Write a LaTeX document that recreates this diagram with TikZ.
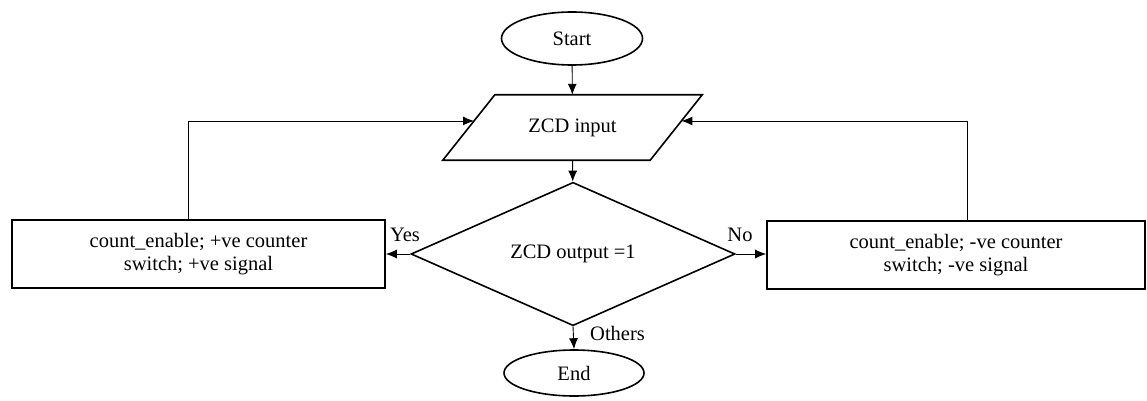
\documentclass[tikz,border=0pt]{standalone}
\usepackage{fontspec}
\setmainfont{Liberation Serif}
\usetikzlibrary{shapes.geometric,arrows.meta,calc}
\begin{document}
\begin{tikzpicture}[x=1pt,y=-1pt,
  every node/.style={font=\fontsize{20.5}{23.5}\selectfont, inner sep=0pt},
  shapeline/.style={draw=black, line width=1.6pt},
  term/.style={shapeline, ellipse},
  iobox/.style={rectangle, minimum width=207pt, minimum height=65pt},
  decide/.style={shapeline, diamond, minimum width=324pt, minimum height=130pt},
  proc/.style={shapeline, rectangle, minimum height=68pt, align=center},
  arr/.style={draw=black, line width=0.9pt, -{Latex[length=11pt,width=9pt]}},
  lbl/.style={}
]
\useasboundingbox (0,0) rectangle (1147,401);
\node[term, minimum width=141pt, minimum height=53pt] (start) at (572,38.5) {Start};
\node[iobox] (zcd) at (572.5,127.5) {ZCD input};
\coordinate (ztl) at ([xshift=26pt]zcd.north west);
\coordinate (ztr) at ([xshift=26pt]zcd.north east);
\coordinate (zbr) at ([xshift=-26pt]zcd.south east);
\coordinate (zbl) at ([xshift=-26pt]zcd.south west);
\draw[shapeline, line join=miter] (ztl) -- (ztr) -- (zbr) -- (zbl) -- cycle;
\node[decide] (dec) at (573,254) {ZCD output =1};
\node[proc, minimum width=373pt] (lbox) at (198.5,254) {count\_enable; +ve counter\\switch; +ve signal};
\node[proc, minimum width=378pt] (rbox) at (956,255) {count\_enable; -ve counter\\switch; -ve signal};
\node[term, minimum width=140pt, minimum height=46pt] (end) at (574,373) {End};

\coordinate (zl) at ($(ztl)!0.4!(zbl)$);
\coordinate (zr) at ($(ztr)!0.4!(zbr)$);

\draw[arr] (start) -- (zcd);
\draw[arr] (zcd) -- (dec);
\draw[arr] (dec.west) -- (dec.west -| lbox.east);
\draw[arr] (dec.east) -- (dec.east -| rbox.west);
\draw[arr] (dec.south) -- (end.north);
\draw[arr] ([xshift=-10pt]lbox.north) |- (zl);
\draw[arr] ([xshift=11pt]rbox.north) |- (zr);

\node[lbl] (yes) at (405,235) {Yes};
\node[lbl] (no) at (740,235) {No};
\node[lbl, anchor=west] (oth) at (590,333) {Others};
\end{tikzpicture}
\end{document}
